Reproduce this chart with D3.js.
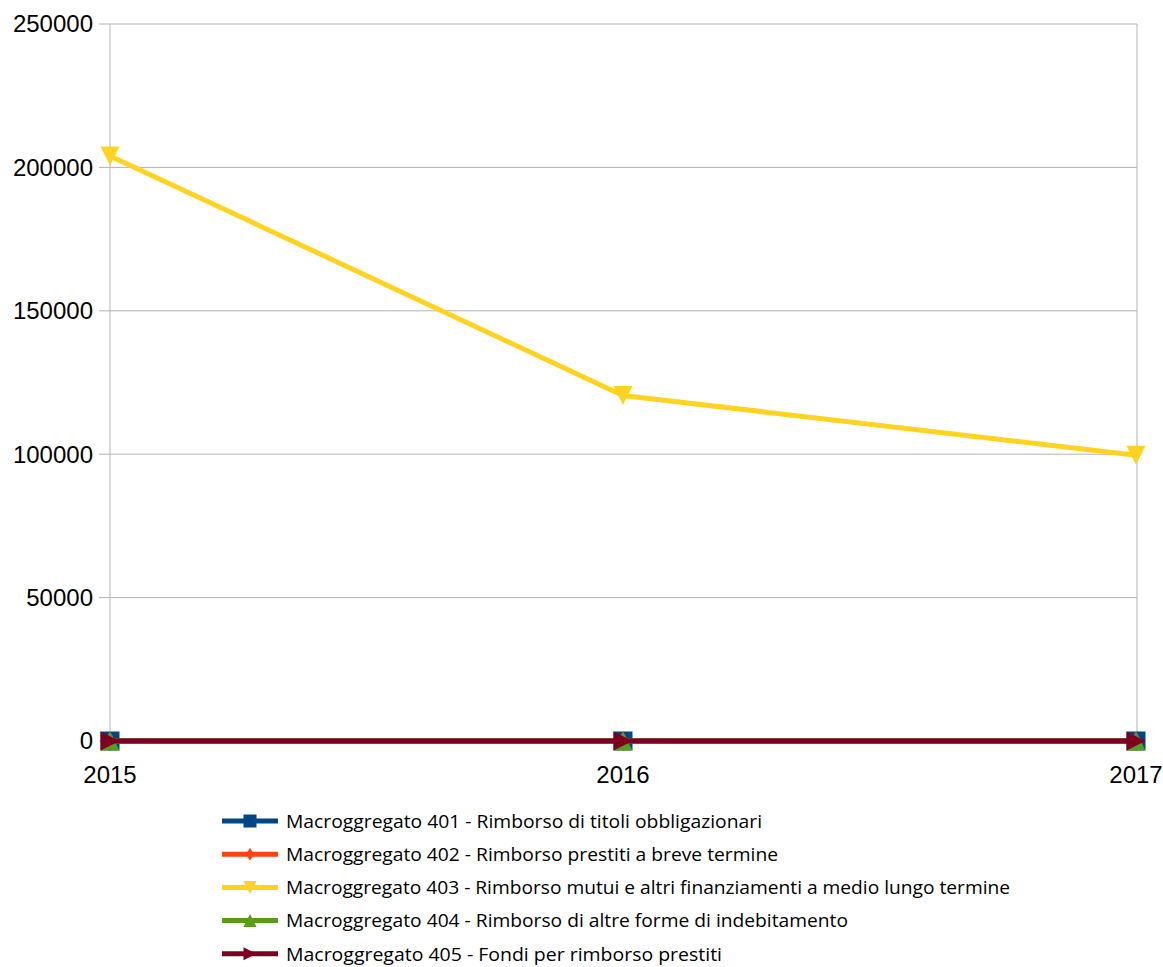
<!DOCTYPE html>
<html><head><meta charset="utf-8">
<script src="https://cdn.jsdelivr.net/npm/d3@7"></script>
<style>body{margin:0;background:#fff;} svg{display:block;}</style>
</head><body>
<svg id="c" width="1163" height="967"></svg>
<script>
const years = ["2015", "2016", "2017"];
const seriesNames = [
  "Macroggregato 401 - Rimborso di titoli obbligazionari",
  "Macroggregato 402 - Rimborso prestiti a breve termine",
  "Macroggregato 403 - Rimborso mutui e altri finanziamenti a medio lungo termine",
  "Macroggregato 404 - Rimborso di altre forme di indebitamento",
  "Macroggregato 405 - Fondi per  rimborso  prestiti"
];
const s401 = [0, 0, 0];
const s402 = [0, 0, 0];
const s403 = [204000, 120500, 99600];
const s404 = [0, 0, 0];
const s405 = [0, 0, 0];
const yTicks = [0, 50000, 100000, 150000, 200000, 250000];
const colors = ["#004586", "#ff420e", "#ffd320", "#579d1c", "#7e0021"];
const markerTypes = ["square", "diamond", "down", "up", "right"];
const legendWidths = [476, 492, 724, 562, 436];

const allSeries = [s401, s402, s403, s404, s405];
const svg = d3.select("#c");
const x = d3.scalePoint().domain(years).range([110, 1136]);
const y = d3.scaleLinear().domain([0, 250000]).range([741, 24]);

// gridlines
svg.append("g").selectAll("line").data(yTicks).join("line")
  .attr("x1", 99).attr("x2", 1137)
  .attr("y1", d => y(d)).attr("y2", d => y(d))
  .attr("stroke", "#b3b3b3").attr("stroke-width", 1);
// vertical border lines
svg.append("line").attr("x1", x("2015")).attr("x2", x("2015")).attr("y1", y(250000)).attr("y2", 751)
  .attr("stroke", "#b3b3b3");
svg.append("line").attr("x1", x("2017")+1).attr("x2", x("2017")+1).attr("y1", y(250000)).attr("y2", 751)
  .attr("stroke", "#b3b3b3");
svg.append("g").selectAll("line").data(years).join("line")
  .attr("x1", d => x(d)).attr("x2", d => x(d)).attr("y1", 741).attr("y2", 751)
  .attr("stroke", "#b3b3b3");

// y labels
svg.append("g").selectAll("text").data(yTicks).join("text")
  .attr("x", 93).attr("y", d => y(d)).attr("dy", "0.35em")
  .attr("text-anchor", "end")
  .attr("font-family", "Liberation Sans, Arial, sans-serif").attr("font-size", 24)
  .attr("fill", "#000").text(d => d);
// x labels
svg.append("g").selectAll("text").data(years).join("text")
  .attr("x", d => x(d)).attr("y", 783)
  .attr("text-anchor", "middle")
  .attr("font-family", "Liberation Sans, Arial, sans-serif").attr("font-size", 24)
  .attr("fill", "#000").text(d => d);

function markerPath(type, s) {
  const h = s / 2;
  switch (type) {
    case "square": return `M${-h},${-h}H${h}V${h}H${-h}Z`;
    case "diamond": return `M0,${-h}L${h*0.6},0L0,${h}L${-h*0.6},0Z`;
    case "down": return `M${-h},${-h}L${h},${-h}L0,${h}Z`;
    case "up": return `M${-h},${h}L${h},${h}L0,${-h}Z`;
    case "right": return `M${-h},${-h}L${h},0L${-h},${h}Z`;
  }
}

const line = d3.line().x((d, i) => x(years[i])).y(d => y(d));
allSeries.forEach((s, k) => {
  const g = svg.append("g");
  g.append("path").datum(s).attr("d", line)
    .attr("fill", "none").attr("stroke", colors[k]).attr("stroke-width", 5)
    .attr("stroke-linejoin", "round");
  g.selectAll("path.m").data(s).join("path").attr("class", "m")
    .attr("transform", (d, i) => `translate(${x(years[i])},${y(d)})`)
    .attr("d", markerPath(markerTypes[k], 19))
    .attr("fill", colors[k]);
});

// legend
const lg = svg.append("g");
seriesNames.forEach((name, k) => {
  const yy = 821 + k * 33.2;
  lg.append("line").attr("x1", 222).attr("x2", 278).attr("y1", yy).attr("y2", yy)
    .attr("stroke", colors[k]).attr("stroke-width", 5);
  lg.append("path").attr("transform", `translate(250,${yy})`)
    .attr("d", markerPath(markerTypes[k], 13)).attr("fill", colors[k]);
  lg.append("text").attr("x", 286).attr("y", yy).attr("dy", "0.36em")
    .attr("font-family", "Liberation Sans Narrow, Open Sans, Liberation Sans, sans-serif").attr("font-size", 19)
    .attr("textLength", legendWidths[k]).attr("lengthAdjust", "spacingAndGlyphs")
    .attr("fill", "#000").text(name);
});
</script>
</body></html>
